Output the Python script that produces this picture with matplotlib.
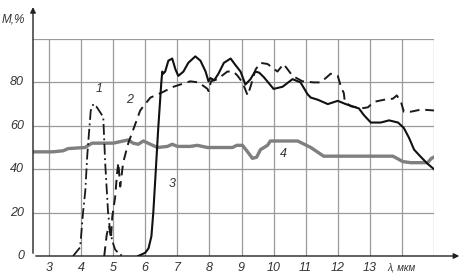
import matplotlib
matplotlib.use("Agg")
import matplotlib.pyplot as plt

# Curve 1 (dash-dot)
c1_x = [3.75, 3.97, 4.06, 4.13, 4.19, 4.22, 4.3, 4.38, 4.47, 4.56, 4.69, 4.75, 4.84, 4.9, 4.97, 5.06, 5.12, 5.28]
c1_y = [0, 4, 20, 30, 46, 52, 67, 70, 69, 67, 64, 43, 20, 12, 7, 3, 2, 0]

# Curve 2 (dashed)
c2_x = [4.72, 4.8, 4.87, 4.93, 4.97, 5.06, 5.12, 5.16, 5.22, 5.31, 5.47, 5.62, 5.84, 5.94, 6.16, 6.47, 6.88,
        7.4, 7.66, 7.94, 7.97, 8.05, 8.25, 8.56, 8.75, 8.88, 9.03, 9.19, 9.28, 9.44, 9.59, 9.81, 10.12, 10.31,
        10.59, 10.9, 11.25, 11.47, 11.78, 12.0, 12.1, 12.19, 12.22, 12.41, 12.72, 12.94, 13.12, 13.44, 13.72,
        13.84, 13.97, 14.06, 14.28, 14.6, 15.06]
c2_y = [0, 10, 14, 8, 18, 27, 38, 43, 32, 43, 52, 58, 67, 69, 73, 75, 78,
        80.5, 80, 77, 76, 80.5, 81.5, 85, 85, 83, 80, 74, 78, 86, 89, 88.5, 85, 88.5,
        83, 80.5, 80, 80, 84, 83, 78, 75, 71, 69, 68, 68.5, 71, 72, 72.5,
        74, 71, 66.5, 66.5, 67.5, 67]

# Curve 3 (solid)
c3_x = [5.78, 6.0, 6.1, 6.19, 6.25, 6.31, 6.4, 6.5, 6.53, 6.56, 6.62, 6.72, 6.84, 6.94, 7.03, 7.19, 7.34,
        7.56, 7.72, 7.88, 7.97, 8.03, 8.15, 8.28, 8.45, 8.66, 8.81, 8.97, 9.12, 9.28, 9.42, 9.55, 9.69,
        10.0, 10.28, 10.59, 10.84, 11.06, 11.16, 11.38, 11.69, 12.0, 12.25, 12.66, 12.81, 13.03, 13.34,
        13.6, 13.88, 14.06, 14.22, 14.38, 14.6, 14.8, 15.0]
c3_y = [0, 1.5, 3.5, 9, 20, 35, 58, 80, 85, 84, 85, 90, 91, 86, 83, 85, 89,
        92, 90, 85, 80.5, 82, 81, 84, 89, 91, 88, 85, 79, 81.5, 85, 84.5, 82.5,
        77, 78, 81.5, 80, 74.5, 73, 72, 70, 71.5, 70, 68, 65, 61.5, 61.5,
        62.5, 61.5, 59, 54.5, 49, 45.5, 42.5, 40]

# Curve 4 (gray)
c4_x = [2.5, 3.12, 3.44, 3.6, 4.12, 4.34, 5.0, 5.47, 5.62, 5.78, 5.94, 6.16, 6.38, 6.69, 6.84, 7.0, 7.4,
        7.62, 7.94, 8.72, 8.85, 9.03, 9.19, 9.34, 9.47, 9.59, 9.81, 9.9, 10.31, 10.75, 11.16, 11.56,
        13.72, 14.03, 14.28, 14.8, 14.92, 15.06]
c4_y = [48, 48, 48.5, 49.5, 50, 52, 52, 53.5, 52, 51.5, 53, 51.5, 50, 50.5, 51.5, 50.5, 50.5,
        51, 50, 50, 51, 51, 48, 45, 45.5, 49, 51, 53, 53, 53, 50, 46,
        46, 43.5, 43, 43, 45, 46]

x_ticks = [3, 4, 5, 6, 7, 8, 9, 10, 11, 12, 13]
y_ticks = [0, 20, 40, 60, 80]
x_grid = [3, 4, 5, 6, 7, 8, 9, 10, 11, 12, 13, 14, 15]
y_grid = [20, 40, 60, 80, 100]

fig = plt.figure(figsize=(4.63, 2.77), dpi=100)
ax = fig.add_axes([33 / 463, 21 / 277, 401 / 463, 217 / 277])
ax.set_xlim(2.5, 15)
ax.set_ylim(0, 100)
ax.axis("off")

gcol = "#9a9a9a"
for xv in x_grid:
    ax.plot([xv, xv], [0, 100], color=gcol, lw=0.9, zorder=1)
for yv in y_grid:
    ax.plot([2.5, 15], [yv, yv], color=gcol, lw=0.9, zorder=1)

# axes with arrows
ax.annotate("", xy=(1.07, 0), xytext=(0, 0), xycoords="axes fraction",
            arrowprops=dict(arrowstyle="-|>", color="#222222", lw=1.0, mutation_scale=8),
            annotation_clip=False)
ax.annotate("", xy=(0, 1.16), xytext=(0, 0), xycoords="axes fraction",
            arrowprops=dict(arrowstyle="-|>", color="#222222", lw=1.0, mutation_scale=8),
            annotation_clip=False)

ax.plot(c4_x, c4_y, color="#7f7f7f", lw=2.4, zorder=2, solid_capstyle="butt")
ax.plot(c1_x, c1_y, color="#1a1a1a", lw=1.3, dashes=(6, 2, 1, 2), zorder=3)
ax.plot(c2_x, c2_y, color="#1a1a1a", lw=1.4, dashes=(5, 3), zorder=3)
ax.plot(c3_x, c3_y, color="#111111", lw=1.5, zorder=4)

tcol = "#333333"
fkw = dict(family="Liberation Sans", style="italic", color=tcol)
for xv in x_ticks:
    ax.text(xv, -5.3, str(xv), ha="center", va="center", fontsize=9, **fkw)
for yv in y_ticks:
    ax.text(2.22, yv, str(yv), ha="right", va="center", fontsize=9, **fkw)

ax.text(14.0, -5.3, "λ, мкм", ha="center", va="center", fontsize=7, **fkw)
fig.text(13 / 463, 1 - 20 / 277, "M,%", ha="center", va="center", fontsize=8.5, **fkw)

ax.text(4.56, 77, "1", ha="center", va="center", fontsize=9, **fkw)
ax.text(5.5, 72, "2", ha="center", va="center", fontsize=9, **fkw)
ax.text(6.84, 33, "3", ha="center", va="center", fontsize=9, **fkw)
ax.text(10.31, 47, "4", ha="center", va="center", fontsize=9, **fkw)

fig.savefig("out.png", dpi=100)
